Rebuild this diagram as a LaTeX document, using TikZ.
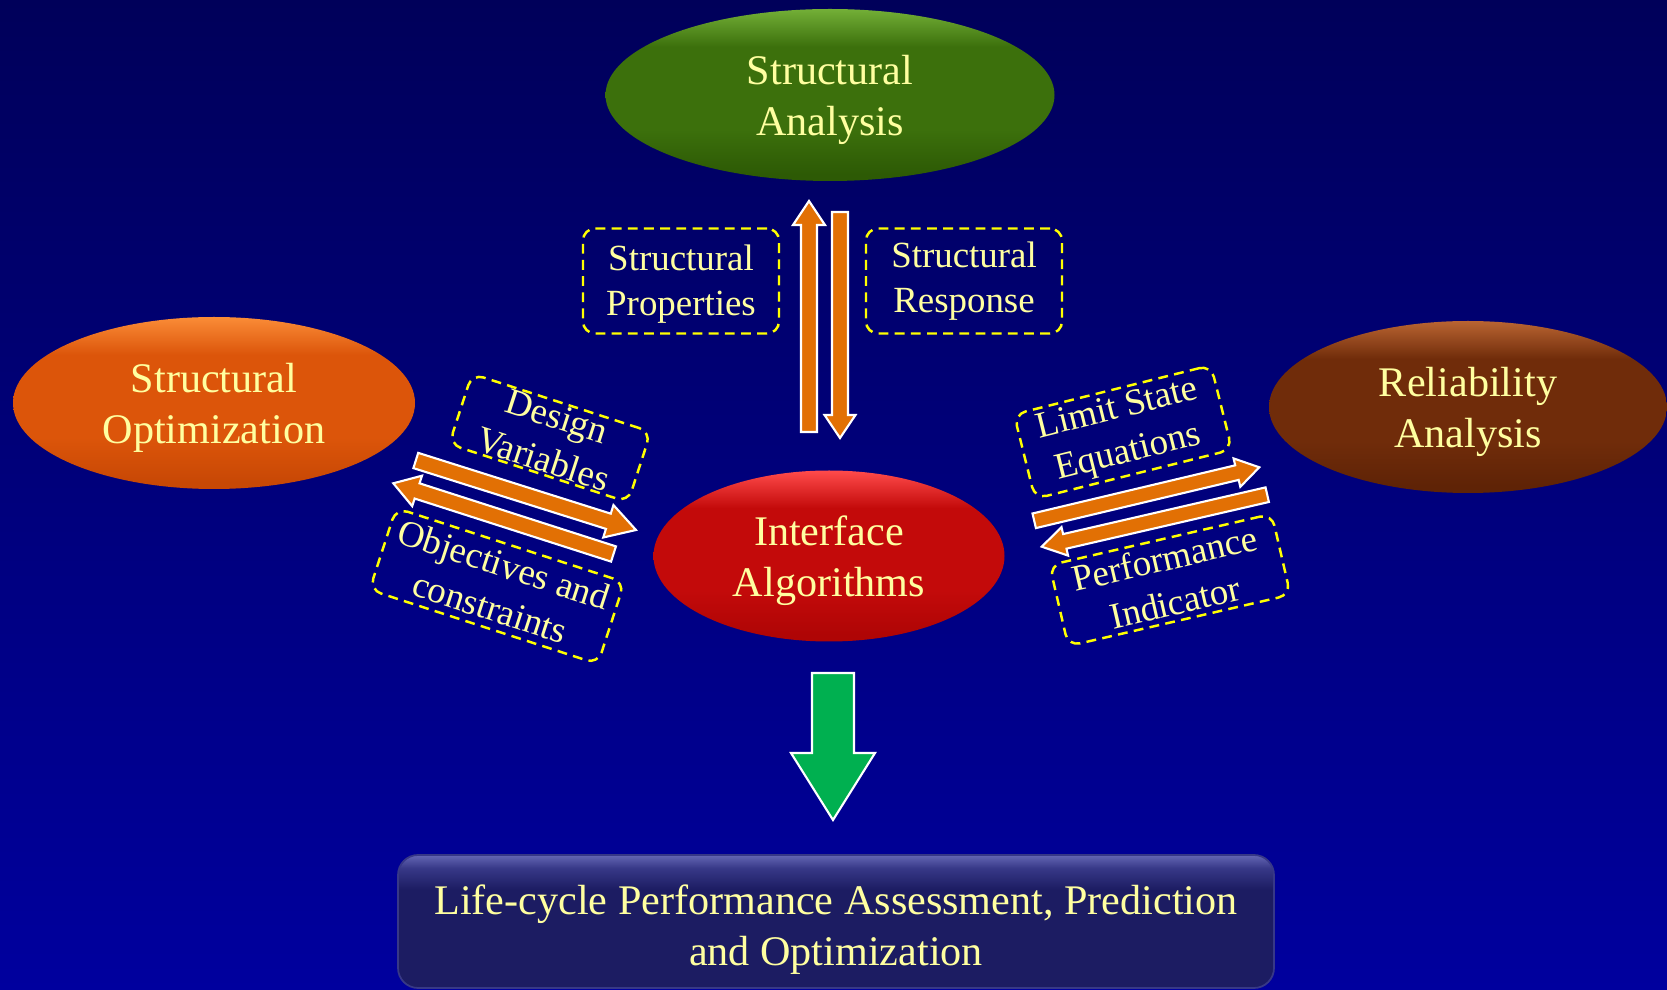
\documentclass[tikz,border=0pt]{standalone}
\usepackage{fontspec}
\setmainfont{Liberation Serif}
\usetikzlibrary{calc,shapes.geometric}
\definecolor{bgtop}{RGB}{0,0,90}
\definecolor{bgbot}{RGB}{0,0,158}
\definecolor{txt}{RGB}{255,255,160}
\definecolor{dashy}{RGB}{255,255,0}
\definecolor{arrOr}{RGB}{226,112,4}
\definecolor{arrGr}{RGB}{0,176,80}
\definecolor{grL}{RGB}{115,175,55}
\definecolor{grM}{RGB}{60,112,12}
\definecolor{grD}{RGB}{45,90,5}
\definecolor{orL}{RGB}{250,140,55}
\definecolor{orM}{RGB}{220,85,10}
\definecolor{orD}{RGB}{200,72,5}
\definecolor{brL}{RGB}{185,100,50}
\definecolor{brM}{RGB}{112,44,10}
\definecolor{brD}{RGB}{95,35,6}
\definecolor{rdL}{RGB}{255,75,75}
\definecolor{rdM}{RGB}{195,10,10}
\definecolor{rdD}{RGB}{175,5,5}
\definecolor{bxL}{RGB}{100,102,180}
\definecolor{bxM}{RGB}{55,56,135}
\definecolor{bxD}{RGB}{28,28,98}
\pgfdeclareverticalshading{grsh}{100bp}{color(0bp)=(grD); color(27bp)=(grD); color(40bp)=(grM); color(64bp)=(grM); color(75bp)=(grL); color(100bp)=(grL)}
\pgfdeclareverticalshading{orsh}{100bp}{color(0bp)=(orD); color(27bp)=(orD); color(40bp)=(orM); color(64bp)=(orM); color(75bp)=(orL); color(100bp)=(orL)}
\pgfdeclareverticalshading{brsh}{100bp}{color(0bp)=(brD); color(27bp)=(brD); color(40bp)=(brM); color(64bp)=(brM); color(75bp)=(brL); color(100bp)=(brL)}
\pgfdeclareverticalshading{rdsh}{100bp}{color(0bp)=(rdD); color(27bp)=(rdD); color(40bp)=(rdM); color(64bp)=(rdM); color(75bp)=(rdL); color(100bp)=(rdL)}
\pgfdeclareverticalshading{lcshade}{100bp}{color(0bp)=(bxD); color(62bp)=(bxD); color(70bp)=(bxM); color(75bp)=(bxL); color(100bp)=(bxL)}
% block arrow from tail #2 to tip #3; #4 half shaft, #5 half head, #6 head length
\newcommand\blockarr[6][]{%
  \coordinate (ba-h) at ($(#3)!#6!(#2)$);
  \draw[#1] ($(#2)!#4!90:(#3)$) -- ($(ba-h)!#4!-90:(#2)$) -- ($(ba-h)!#5!-90:(#2)$)
    -- (#3) -- ($(ba-h)!#5!90:(#2)$) -- ($(ba-h)!#4!90:(#2)$) -- ($(#2)!#4!-90:(#3)$) -- cycle;}
\tikzset{
  ell/.style={ellipse, inner sep=0pt, align=center, text=txt, text depth=0pt, text height=23.1pt,
    font=\fontsize{12}{14.5}\selectfont},
  dbox/.style={draw=dashy, dash pattern=on 2.8pt off 1.8pt, line width=0.7pt, rounded corners=1.2mm,
    inner sep=0pt, align=center, text=txt, font=\fontsize{10.5}{12.8}\selectfont},
  barrow/.style={fill=arrOr, draw=white, line width=0.6pt, line join=miter},
  garrow/.style={fill=arrGr, draw=white, line width=0.6pt, line join=miter},
  lcbox/.style={shading=lcshade, draw=bxM, line width=0.5pt, rounded corners=2mm, inner sep=0pt,
    align=center, text=txt, text depth=0pt, text height=24.9pt, font=\fontsize{12}{14.5}\selectfont}
}
\begin{document}
\begin{tikzpicture}[x=0.1mm, y=-0.1mm]
\useasboundingbox (0,0) rectangle (1667,990);
\clip (0,0) rectangle (1667,990);
\fill[top color=bgtop, bottom color=bgbot] (0,0) rectangle (1667,990);

% ellipses
\node[ell, shading=grsh, minimum width=44.9mm, minimum height=17.2mm] (sa) at (830,95) {Structural\\Analysis};
\node[ell, shading=orsh, minimum width=40.2mm, minimum height=17.2mm] (so) at (214,403) {Structural\\Optimization};
\node[ell, shading=brsh, minimum width=39.8mm, minimum height=17.2mm] (ra) at (1468,407) {Reliability\\Analysis};
\node[ell, shading=rdsh, minimum width=35.1mm, minimum height=17.1mm] (ia) at (829,556) {Interface\\Algorithms};

% dashed label boxes
\node[dbox, text depth=0pt, text height=19.5pt, minimum width=19.6mm, minimum height=10.5mm] (sp) at (681,281) {Structural\\Properties};
\node[dbox, minimum width=19.6mm, minimum height=10.5mm] (sr) at (964,281) {Structural\\Response};
\node[dbox, rotate=-18, minimum width=18.8mm, minimum height=7.4mm] (dv) at (550,438) {Design\\Variables};
\node[dbox, rotate=-18, minimum width=24mm, minimum height=8.6mm] (oc) at (497,586) {Objectives and\\constraints};
\node[dbox, rotate=14, minimum width=20.3mm, minimum height=8.7mm] (ls) at (1123,432) {Limit State\\Equations};
\node[dbox, rotate=13, minimum width=22.8mm, minimum height=8.3mm] (pi) at (1170,580) {Performance\\Indicator};

% bottom box
\node[lcbox, minimum width=87.6mm, minimum height=13.3mm] (lc) at (836,921.5) {Life-cycle Performance Assessment, Prediction\\and Optimization};

% arrow end points
\coordinate (upT) at (809,432);   \coordinate (upH) at (809,201);
\coordinate (dnT) at (840,212);   \coordinate (dnH) at (840,438);
\coordinate (l1T) at (415.8,460.5); \coordinate (l1H) at (636,530);
\coordinate (l2T) at (613.5,554);   \coordinate (l2H) at (393.3,483.3);
\coordinate (r1T) at (1034.2,520.8); \coordinate (r1H) at (1259.3,467.3);
\coordinate (r2T) at (1267.2,494.7); \coordinate (r2H) at (1041.7,546.7);
\coordinate (gT) at (833,673);     \coordinate (gH) at (833,820);

\blockarr[barrow]{upT}{upH}{0.8mm}{1.6mm}{2.4mm}
\blockarr[barrow]{dnT}{dnH}{0.8mm}{1.55mm}{2.3mm}
\blockarr[barrow]{l1T}{l1H}{0.8mm}{1.7mm}{2.9mm}
\blockarr[barrow]{l2T}{l2H}{0.8mm}{1.6mm}{2.5mm}
\blockarr[barrow]{r1T}{r1H}{0.75mm}{1.46mm}{2.3mm}
\blockarr[barrow]{r2T}{r2H}{0.75mm}{1.46mm}{2.37mm}
\blockarr[garrow]{gT}{gH}{2.1mm}{4.2mm}{6.7mm}
\end{tikzpicture}
\end{document}
